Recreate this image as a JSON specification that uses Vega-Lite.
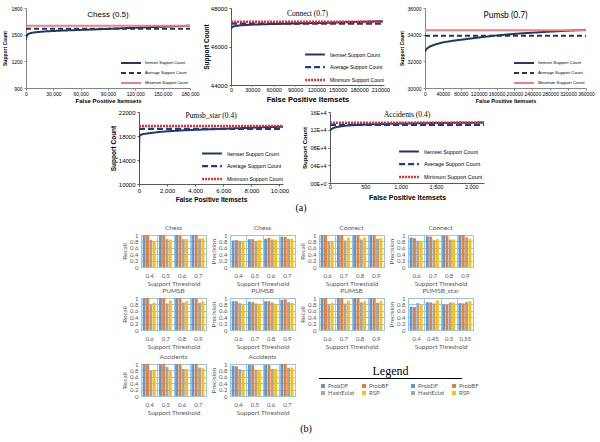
{
"$schema":"https://vega.github.io/schema/vega-lite/v6.json",
"padding":{"left":2,"top":5,"right":0,"bottom":0},
"spacing":0,
"data":{"name":"bars"},
"resolve":{"scale":{"color":"independent","strokeDash":"independent","strokeWidth":"independent"},"legend":{"color":"independent","strokeDash":"independent","strokeWidth":"independent"}},
"config":{
 "view":{"stroke":null},
 "font":"Lato",
 "title":{"font":"Lato","fontSize":6.5,"fontWeight":"normal","color":"#595959","baseline":"alphabetic","offset":1,"frame":"group","anchor":"middle"},
 "axisX":{"grid":true,"gridColor":"#9DC3E6","tickBand":"extent","domain":false,"ticks":false,"labelAngle":0,"labelFont":"Lato","labelFontSize":6,"labelColor":"#595959","labelPadding":5,"titleFont":"Lato","titleFontSize":6.5,"titleFontWeight":"normal","titleColor":"#595959","titlePadding":2},
 "axisY":{"grid":true,"gridColor":"#9DC3E6","domain":false,"ticks":false,"labelFont":"Lato","labelFontSize":6,"labelColor":"#595959","labelPadding":3,"titleFont":"Lato","titleFontSize":6.5,"titleFontWeight":"normal","titleColor":"#595959","titlePadding":2},
 "legend":{"padding":0,"titlePadding":0}
},
"datasets":{
 "methods":[{"m":"ProbDF"},{"m":"ProbBF"},{"m":"HashEclat"},{"m":"RSP"}],
 "bars":[
  {"p":"ChessR","t":"0.4","ProbDF":1,"ProbBF":1,"HashEclat":0.85,"RSP":0.82},
  {"p":"ChessR","t":"0.5","ProbDF":1,"ProbBF":1,"HashEclat":0.87,"RSP":0.85},
  {"p":"ChessR","t":"0.6","ProbDF":1,"ProbBF":1,"HashEclat":0.87,"RSP":0.87},
  {"p":"ChessR","t":"0.7","ProbDF":1,"ProbBF":1,"HashEclat":0.88,"RSP":0.9},
  {"p":"ChessP","t":"0.4","ProbDF":0.83,"ProbBF":0.84,"HashEclat":0.82,"RSP":0.81},
  {"p":"ChessP","t":"0.5","ProbDF":0.87,"ProbBF":0.87,"HashEclat":0.82,"RSP":0.84},
  {"p":"ChessP","t":"0.6","ProbDF":0.88,"ProbBF":0.91,"HashEclat":0.86,"RSP":0.86},
  {"p":"ChessP","t":"0.7","ProbDF":0.95,"ProbBF":0.94,"HashEclat":0.88,"RSP":0.88},
  {"p":"ConnR","t":"0.6","ProbDF":1,"ProbBF":1,"HashEclat":0.79,"RSP":0.82},
  {"p":"ConnR","t":"0.7","ProbDF":1,"ProbBF":1,"HashEclat":0.83,"RSP":0.92},
  {"p":"ConnR","t":"0.8","ProbDF":1,"ProbBF":1,"HashEclat":0.86,"RSP":0.92},
  {"p":"ConnR","t":"0.9","ProbDF":1,"ProbBF":1,"HashEclat":0.88,"RSP":0.9},
  {"p":"ConnP","t":"0.6","ProbDF":0.92,"ProbBF":0.9,"HashEclat":0.82,"RSP":0.81},
  {"p":"ConnP","t":"0.7","ProbDF":0.96,"ProbBF":0.95,"HashEclat":0.84,"RSP":0.87},
  {"p":"ConnP","t":"0.8","ProbDF":0.98,"ProbBF":0.98,"HashEclat":0.86,"RSP":0.86},
  {"p":"ConnP","t":"0.9","ProbDF":1,"ProbBF":1,"HashEclat":0.93,"RSP":0.88},
  {"p":"PumR","t":"0.6","ProbDF":1,"ProbBF":1,"HashEclat":0.8,"RSP":0.85},
  {"p":"PumR","t":"0.7","ProbDF":1,"ProbBF":1,"HashEclat":0.83,"RSP":0.92},
  {"p":"PumR","t":"0.8","ProbDF":1,"ProbBF":1,"HashEclat":0.86,"RSP":0.9},
  {"p":"PumR","t":"0.9","ProbDF":1,"ProbBF":1,"HashEclat":0.85,"RSP":0.9},
  {"p":"PumP","t":"0.6","ProbDF":0.9,"ProbBF":0.9,"HashEclat":0.84,"RSP":0.79},
  {"p":"PumP","t":"0.7","ProbDF":0.89,"ProbBF":0.87,"HashEclat":0.83,"RSP":0.82},
  {"p":"PumP","t":"0.8","ProbDF":0.9,"ProbBF":0.9,"HashEclat":0.86,"RSP":0.81},
  {"p":"PumP","t":"0.9","ProbDF":0.94,"ProbBF":0.96,"HashEclat":0.87,"RSP":0.85},
  {"p":"Pum2R","t":"0.6","ProbDF":1,"ProbBF":1,"HashEclat":0.8,"RSP":0.85},
  {"p":"Pum2R","t":"0.7","ProbDF":1,"ProbBF":1,"HashEclat":0.83,"RSP":0.92},
  {"p":"Pum2R","t":"0.8","ProbDF":1,"ProbBF":1,"HashEclat":0.86,"RSP":0.9},
  {"p":"Pum2R","t":"0.9","ProbDF":1,"ProbBF":1,"HashEclat":0.85,"RSP":0.9},
  {"p":"PsP","t":"0.4","ProbDF":0.73,"ProbBF":0.72,"HashEclat":0.84,"RSP":0.78},
  {"p":"PsP","t":"0.45","ProbDF":0.87,"ProbBF":0.86,"HashEclat":0.83,"RSP":0.92},
  {"p":"PsP","t":"0.5","ProbDF":0.8,"ProbBF":0.8,"HashEclat":0.86,"RSP":0.86},
  {"p":"PsP","t":"0.55","ProbDF":0.84,"ProbBF":0.83,"HashEclat":0.88,"RSP":0.9},
  {"p":"AccR","t":"0.4","ProbDF":1,"ProbBF":1,"HashEclat":0.79,"RSP":0.82},
  {"p":"AccR","t":"0.5","ProbDF":1,"ProbBF":1,"HashEclat":0.91,"RSP":0.82},
  {"p":"AccR","t":"0.6","ProbDF":1,"ProbBF":1,"HashEclat":0.85,"RSP":0.85},
  {"p":"AccR","t":"0.7","ProbDF":1,"ProbBF":1,"HashEclat":0.89,"RSP":0.87},
  {"p":"AccP","t":"0.4","ProbDF":0.94,"ProbBF":0.93,"HashEclat":0.84,"RSP":0.78},
  {"p":"AccP","t":"0.5","ProbDF":0.98,"ProbBF":0.97,"HashEclat":0.82,"RSP":0.82},
  {"p":"AccP","t":"0.6","ProbDF":0.97,"ProbBF":0.97,"HashEclat":0.85,"RSP":0.85},
  {"p":"AccP","t":"0.7","ProbDF":1,"ProbBF":1,"HashEclat":0.88,"RSP":0.89}
 ],
 "chess":[
  {"s":"Itemset Support Count","x":0,"y":1440},{"s":"Itemset Support Count","x":300,"y":1470},{"s":"Itemset Support Count","x":1000,"y":1492},{"s":"Itemset Support Count","x":2500,"y":1508},{"s":"Itemset Support Count","x":5000,"y":1518},{"s":"Itemset Support Count","x":10000,"y":1527},{"s":"Itemset Support Count","x":20000,"y":1536},{"s":"Itemset Support Count","x":35000,"y":1544},{"s":"Itemset Support Count","x":50000,"y":1550},{"s":"Itemset Support Count","x":70000,"y":1557},{"s":"Itemset Support Count","x":90000,"y":1565},{"s":"Itemset Support Count","x":110000,"y":1574},{"s":"Itemset Support Count","x":130000,"y":1582},{"s":"Itemset Support Count","x":150000,"y":1590},{"s":"Itemset Support Count","x":165000,"y":1595},{"s":"Itemset Support Count","x":180000,"y":1601},
  {"s":"Average Support Count","x":0,"y":1567},{"s":"Average Support Count","x":180000,"y":1567},
  {"s":"Minimum Support Count","x":0,"y":1600},{"s":"Minimum Support Count","x":180000,"y":1600}
 ],
 "connect":[
  {"s":"Itemset Support Count","x":0,"y":46900},{"s":"Itemset Support Count","x":1000,"y":46990},{"s":"Itemset Support Count","x":3000,"y":47040},{"s":"Itemset Support Count","x":8000,"y":47080},{"s":"Itemset Support Count","x":15000,"y":47105},{"s":"Itemset Support Count","x":30000,"y":47135},{"s":"Itemset Support Count","x":50000,"y":47160},{"s":"Itemset Support Count","x":75000,"y":47185},{"s":"Itemset Support Count","x":100000,"y":47205},{"s":"Itemset Support Count","x":130000,"y":47230},{"s":"Itemset Support Count","x":160000,"y":47260},{"s":"Itemset Support Count","x":190000,"y":47290},{"s":"Itemset Support Count","x":213000,"y":47320},
  {"s":"Average Support Count","x":0,"y":47183},{"s":"Average Support Count","x":213000,"y":47183},
  {"s":"Minimum Support Count","x":0,"y":47290},{"s":"Minimum Support Count","x":213000,"y":47290}
 ],
 "pumsb":[
  {"s":"Itemset Support Count","x":0,"y":32700},{"s":"Itemset Support Count","x":1500,"y":32850},{"s":"Itemset Support Count","x":5000,"y":32980},{"s":"Itemset Support Count","x":12000,"y":33130},{"s":"Itemset Support Count","x":25000,"y":33290},{"s":"Itemset Support Count","x":40000,"y":33420},{"s":"Itemset Support Count","x":60000,"y":33530},{"s":"Itemset Support Count","x":80000,"y":33620},{"s":"Itemset Support Count","x":120000,"y":33790},{"s":"Itemset Support Count","x":160000,"y":33940},{"s":"Itemset Support Count","x":200000,"y":34060},{"s":"Itemset Support Count","x":240000,"y":34150},{"s":"Itemset Support Count","x":280000,"y":34230},{"s":"Itemset Support Count","x":320000,"y":34300},{"s":"Itemset Support Count","x":360000,"y":34360},
  {"s":"Average Support Count","x":0,"y":33920},{"s":"Average Support Count","x":360000,"y":33920},
  {"s":"Minimum Support Count","x":0,"y":34330},{"s":"Minimum Support Count","x":360000,"y":34330}
 ],
 "pumsbstar":[
  {"s":"Itemset Support Count","x":0,"y":13500},{"s":"Itemset Support Count","x":10,"y":16500},{"s":"Itemset Support Count","x":25,"y":18000},{"s":"Itemset Support Count","x":100,"y":18200},{"s":"Itemset Support Count","x":300,"y":18320},{"s":"Itemset Support Count","x":600,"y":18420},{"s":"Itemset Support Count","x":1000,"y":18550},{"s":"Itemset Support Count","x":1500,"y":18680},{"s":"Itemset Support Count","x":2000,"y":18780},{"s":"Itemset Support Count","x":3000,"y":18920},{"s":"Itemset Support Count","x":4000,"y":19030},{"s":"Itemset Support Count","x":5000,"y":19110},{"s":"Itemset Support Count","x":6000,"y":19200},{"s":"Itemset Support Count","x":7000,"y":19290},{"s":"Itemset Support Count","x":8000,"y":19380},{"s":"Itemset Support Count","x":9000,"y":19460},{"s":"Itemset Support Count","x":10250,"y":19550},
  {"s":"Average Support Count","x":0,"y":19180},{"s":"Average Support Count","x":10250,"y":19180},
  {"s":"Minimum Support Count","x":0,"y":19660},{"s":"Minimum Support Count","x":10250,"y":19660}
 ],
 "accidents":[
  {"s":"Itemset Support Count","x":0,"y":118500},{"s":"Itemset Support Count","x":15,"y":121000},{"s":"Itemset Support Count","x":40,"y":123500},{"s":"Itemset Support Count","x":80,"y":125500},{"s":"Itemset Support Count","x":150,"y":127500},{"s":"Itemset Support Count","x":250,"y":129500},{"s":"Itemset Support Count","x":400,"y":131000},{"s":"Itemset Support Count","x":600,"y":132300},{"s":"Itemset Support Count","x":800,"y":133200},{"s":"Itemset Support Count","x":1000,"y":133900},{"s":"Itemset Support Count","x":1300,"y":134700},{"s":"Itemset Support Count","x":1600,"y":135300},{"s":"Itemset Support Count","x":1900,"y":135800},{"s":"Itemset Support Count","x":2180,"y":136200},
  {"s":"Average Support Count","x":0,"y":131000},{"s":"Average Support Count","x":2180,"y":131000},
  {"s":"Minimum Support Count","x":0,"y":135600},{"s":"Minimum Support Count","x":2180,"y":135600}
 ]
},
"vconcat":[
 {"hconcat":[
  {"width":164,"height":80,
   "title":{"text":"Chess (0.5)","font":"Liberation Sans","fontSize":8,"color":"#000","offset":-13},
   "data":{"name":"chess"},"mark":{"type":"line","clip":true},
   "encoding":{
    "x":{"field":"x","type":"quantitative","scale":{"domain":[0,180000],"nice":false},"axis":{"title":"False Positive Itemsets","values":[0,30000,60000,90000,120000,150000,180000],"format":",d","grid":false,"domain":true,"domainColor":"#868686","ticks":true,"tickColor":"#868686","tickSize":2,"labelFont":"Liberation Sans","labelFontSize":5,"labelColor":"#000","labelPadding":1,"labelFlush":false,"titleFont":"Liberation Sans","titleFontSize":6,"titleFontWeight":"bold","titleColor":"#000","titlePadding":1}},
    "y":{"field":"y","type":"quantitative","scale":{"domain":[900,1800],"nice":false,"zero":false},"axis":{"title":"Support Count","values":[900,1200,1500,1800],"format":"d","grid":false,"domain":true,"domainColor":"#868686","ticks":true,"tickColor":"#868686","tickSize":2,"labelFont":"Liberation Sans","labelFontSize":5,"labelColor":"#000","labelPadding":2,"titleFont":"Liberation Sans","titleFontSize":5,"titleFontWeight":"bold","titleColor":"#000","titlePadding":3}},
    "color":{"field":"s","type":"nominal","scale":{"domain":["Itemset Support Count","Average Support Count","Minimum Support Count"],"range":["#1F3864","#1F3864","#F08080"]},"legend":{"title":null,"orient":"bottom-right","offset":1,"symbolType":"M-2.5,0H2.5","symbolSize":64,"symbolStrokeWidth":2,"labelOffset":9,"labelFont":"Liberation Sans","labelFontSize":4,"labelColor":"#000","rowPadding":1}},
    "strokeDash":{"field":"s","type":"nominal","scale":{"domain":["Itemset Support Count","Average Support Count","Minimum Support Count"],"range":[[1,0],[5,3],[1,0]]},"legend":{"title":null,"orient":"bottom-right","offset":1,"symbolType":"M-2.5,0H2.5","symbolSize":64,"symbolStrokeWidth":2,"labelOffset":9,"labelFont":"Liberation Sans","labelFontSize":4,"labelColor":"#000","rowPadding":1}},
    "strokeWidth":{"field":"s","type":"ordinal","scale":{"domain":["Itemset Support Count","Average Support Count","Minimum Support Count"],"range":[2,2,1]},"legend":null}
   }},
  {"width":153,"height":77,
   "title":{"text":"Connect (0.7)","font":"Liberation Serif","fontSize":7.5,"color":"#000","offset":-12},
   "data":{"name":"connect"},"mark":{"type":"line","clip":true},
   "encoding":{
    "x":{"field":"x","type":"quantitative","scale":{"domain":[0,215000],"nice":false},"axis":{"title":"False Positive Itemsets","values":[0,30000,60000,90000,120000,150000,180000,210000],"format":"d","grid":false,"domain":true,"domainColor":"#595959","ticks":true,"tickColor":"#595959","tickSize":1,"labelFont":"Liberation Sans","labelFontSize":5.5,"labelColor":"#000","labelPadding":1,"labelFlush":false,"labelOverlap":false,"titleFont":"Liberation Sans","titleFontSize":7.5,"titleFontWeight":"bold","titleColor":"#000","titlePadding":3}},
    "y":{"field":"y","type":"quantitative","scale":{"domain":[44000,48000],"nice":false,"zero":false},"axis":{"title":"Support Count","values":[44000,46000,48000],"format":"d","grid":false,"domain":true,"domainColor":"#595959","ticks":true,"tickColor":"#595959","tickSize":2,"labelFont":"Liberation Sans","labelFontSize":6,"labelColor":"#000","labelPadding":2,"titleFont":"Liberation Sans","titleFontSize":6.5,"titleFontWeight":"bold","titleColor":"#000","titlePadding":1}},
    "color":{"field":"s","type":"nominal","scale":{"domain":["Itemset Support Count","Average Support Count","Minimum Support Count"],"range":["#1F3864","#1F3A93","#E03030"]},"legend":{"title":null,"orient":"bottom-right","offset":0,"symbolType":"M-2.2,0H2.2","symbolSize":81,"symbolStrokeWidth":2,"labelOffset":9,"labelFont":"Liberation Sans","labelFontSize":5,"labelColor":"#000","rowPadding":2}},
    "strokeDash":{"field":"s","type":"nominal","scale":{"domain":["Itemset Support Count","Average Support Count","Minimum Support Count"],"range":[[1,0],[6,3],[2,1]]},"legend":{"title":null,"orient":"bottom-right","offset":0,"symbolType":"M-2.2,0H2.2","symbolSize":81,"symbolStrokeWidth":2,"labelOffset":9,"labelFont":"Liberation Sans","labelFontSize":5,"labelColor":"#000","rowPadding":2}},
    "strokeWidth":{"field":"s","type":"ordinal","scale":{"domain":["Itemset Support Count","Average Support Count","Minimum Support Count"],"range":[2,2.5,1.3]},"legend":null}
   }},
  {"width":161,"height":80,
   "title":{"text":"Pumsb (0.7)","font":"Lato","fontSize":8.5,"color":"#000","offset":-13},
   "data":{"name":"pumsb"},"mark":{"type":"line","clip":true},
   "encoding":{
    "x":{"field":"x","type":"quantitative","scale":{"domain":[0,360000],"nice":false},"axis":{"title":"False Positive Itemsets","values":[0,40000,80000,120000,160000,200000,240000,280000,320000,360000],"format":"d","grid":false,"domain":true,"domainColor":"#868686","ticks":true,"tickColor":"#868686","tickSize":2,"labelFont":"Liberation Sans","labelFontSize":5,"labelColor":"#000","labelPadding":1,"labelFlush":false,"labelOverlap":false,"titleFont":"Liberation Sans","titleFontSize":5.5,"titleFontWeight":"bold","titleColor":"#000","titlePadding":2}},
    "y":{"field":"y","type":"quantitative","scale":{"domain":[30000,36000],"nice":false,"zero":false},"axis":{"title":"Support Count","values":[30000,32000,34000,36000],"format":"d","grid":false,"domain":true,"domainColor":"#868686","ticks":true,"tickColor":"#868686","tickSize":2,"labelFont":"Liberation Sans","labelFontSize":5,"labelColor":"#000","labelPadding":2,"titleFont":"Liberation Sans","titleFontSize":5,"titleFontWeight":"bold","titleColor":"#000","titlePadding":3}},
    "color":{"field":"s","type":"nominal","scale":{"domain":["Itemset Support Count","Average Support Count","Minimum Support Count"],"range":["#1F3864","#1F3864","#F08080"]},"legend":{"title":null,"orient":"bottom-right","offset":1,"symbolType":"M-2.5,0H2.5","symbolSize":64,"symbolStrokeWidth":2,"labelOffset":9,"labelFont":"Liberation Sans","labelFontSize":4.3,"labelColor":"#000","rowPadding":1}},
    "strokeDash":{"field":"s","type":"nominal","scale":{"domain":["Itemset Support Count","Average Support Count","Minimum Support Count"],"range":[[1,0],[5,3],[1,0]]},"legend":{"title":null,"orient":"bottom-right","offset":1,"symbolType":"M-2.5,0H2.5","symbolSize":64,"symbolStrokeWidth":2,"labelOffset":9,"labelFont":"Liberation Sans","labelFontSize":4.3,"labelColor":"#000","rowPadding":1}},
    "strokeWidth":{"field":"s","type":"ordinal","scale":{"domain":["Itemset Support Count","Average Support Count","Minimum Support Count"],"range":[2,2,1]},"legend":null}
   }}
 ],"spacing":41,"bounds":"flush","resolve":{"scale":{"color":"independent","strokeDash":"independent","strokeWidth":"independent"},"legend":{"color":"independent","strokeDash":"independent","strokeWidth":"independent"}}},
 {"width":1,"height":5,"data":{"values":[]},"mark":"point"},
 {"hconcat":[
  {"width":66,"height":1,"data":{"values":[]},"mark":"point"},
  {"width":144,"height":72,
   "title":{"text":"Pumsb_star (0.4)","font":"Liberation Serif","fontSize":7.5,"color":"#000","offset":-10},
   "data":{"name":"pumsbstar"},"mark":{"type":"line","clip":true},
   "encoding":{
    "x":{"field":"x","type":"quantitative","scale":{"domain":[0,10250],"nice":false},"axis":{"title":"False Positive Itemsets","values":[0,2000,4000,6000,8000,10000],"format":",d","grid":false,"domain":true,"domainColor":"#595959","ticks":true,"tickColor":"#595959","tickSize":2,"labelFont":"Liberation Sans","labelFontSize":6,"labelColor":"#000","labelPadding":1,"labelFlush":false,"titleFont":"Liberation Sans","titleFontSize":6.5,"titleFontWeight":"bold","titleColor":"#000","titlePadding":3}},
    "y":{"field":"y","type":"quantitative","scale":{"domain":[10000,22000],"nice":false,"zero":false},"axis":{"title":"Support Count","values":[10000,14000,18000,22000],"format":"d","grid":false,"domain":true,"domainColor":"#595959","ticks":true,"tickColor":"#595959","tickSize":2,"labelFont":"Liberation Sans","labelFontSize":6,"labelColor":"#000","labelPadding":2,"titleFont":"Liberation Sans","titleFontSize":6.5,"titleFontWeight":"bold","titleColor":"#000","titlePadding":2}},
    "color":{"field":"s","type":"nominal","scale":{"domain":["Itemset Support Count","Average Support Count","Minimum Support Count"],"range":["#1F3864","#1F3A93","#E03030"]},"legend":{"title":null,"orient":"bottom-right","offset":0,"symbolType":"M-2.2,0H2.2","symbolSize":81,"symbolStrokeWidth":2,"labelOffset":9,"labelFont":"Liberation Sans","labelFontSize":5.2,"labelColor":"#000","rowPadding":2}},
    "strokeDash":{"field":"s","type":"nominal","scale":{"domain":["Itemset Support Count","Average Support Count","Minimum Support Count"],"range":[[1,0],[6,3],[2,1]]},"legend":{"title":null,"orient":"bottom-right","offset":0,"symbolType":"M-2.2,0H2.2","symbolSize":81,"symbolStrokeWidth":2,"labelOffset":9,"labelFont":"Liberation Sans","labelFontSize":5.2,"labelColor":"#000","rowPadding":2}},
    "strokeWidth":{"field":"s","type":"ordinal","scale":{"domain":["Itemset Support Count","Average Support Count","Minimum Support Count"],"range":[2,2.5,1.3]},"legend":null}
   }},
  {"width":154,"height":71,
   "title":{"text":"Accidents (0.4)","font":"Liberation Serif","fontSize":7.5,"color":"#000","offset":-8},
   "data":{"name":"accidents"},"mark":{"type":"line","clip":true},
   "encoding":{
    "x":{"field":"x","type":"quantitative","scale":{"domain":[0,2180],"nice":false},"axis":{"title":"False Positive Itemsets","values":[0,500,1000,1500,2000],"format":",d","grid":false,"domain":true,"domainColor":"#595959","ticks":true,"tickColor":"#595959","tickSize":1,"labelFont":"Liberation Sans","labelFontSize":5.5,"labelColor":"#000","labelPadding":0,"labelFlush":false,"titleFont":"Liberation Sans","titleFontSize":7,"titleFontWeight":"bold","titleColor":"#000","titlePadding":4}},
    "y":{"field":"y","type":"quantitative","scale":{"domain":[0,160000],"nice":false},"axis":{"title":"Support Count","values":[0,40000,80000,120000,160000],"labelExpr":"datum.value == 0 ? '00E+0' : (datum.value < 100000 ? '0' : '') + (datum.value/10000) + 'E+4'","grid":false,"domain":true,"domainColor":"#595959","ticks":true,"tickColor":"#595959","tickSize":2,"labelFont":"Liberation Sans","labelFontSize":5.5,"labelColor":"#000","labelPadding":2,"titleFont":"Liberation Sans","titleFontSize":6,"titleFontWeight":"bold","titleColor":"#000","titlePadding":2}},
    "color":{"field":"s","type":"nominal","scale":{"domain":["Itemset Support Count","Average Support Count","Minimum Support Count"],"range":["#1F3864","#1F3A93","#E03030"]},"legend":{"title":null,"orient":"bottom-right","offset":1.5,"symbolType":"M-2.2,0H2.2","symbolSize":81,"symbolStrokeWidth":2,"labelOffset":9,"labelFont":"Liberation Sans","labelFontSize":5.4,"labelColor":"#000","rowPadding":2}},
    "strokeDash":{"field":"s","type":"nominal","scale":{"domain":["Itemset Support Count","Average Support Count","Minimum Support Count"],"range":[[1,0],[6,3],[2,1]]},"legend":{"title":null,"orient":"bottom-right","offset":1.5,"symbolType":"M-2.2,0H2.2","symbolSize":81,"symbolStrokeWidth":2,"labelOffset":9,"labelFont":"Liberation Sans","labelFontSize":5.4,"labelColor":"#000","rowPadding":2}},
    "strokeWidth":{"field":"s","type":"ordinal","scale":{"domain":["Itemset Support Count","Average Support Count","Minimum Support Count"],"range":[2,2.5,1.3]},"legend":null}
   }}
 ],"spacing":47,"bounds":"flush","resolve":{"scale":{"color":"independent","strokeDash":"independent","strokeWidth":"independent"},"legend":{"color":"independent","strokeDash":"independent","strokeWidth":"independent"}}},
 {"width":550,"height":11,"data":{"values":[]},"mark":"point","title":{"text":"(a)","font":"Liberation Serif","fontSize":10,"color":"#000","offset":0}},
 {"hconcat":[
  {"width":91,"height":1,"data":{"values":[]},"mark":"point"},
  {"width":65,"height":32,"view":{"stroke":"#9DC3E6"},"title":"Chess","transform":[{"filter":"datum.p=='ChessR'"},{"fold":["ProbDF","ProbBF","HashEclat","RSP"],"as":["m","v"]}],"mark":"bar","encoding":{"x":{"field":"t","type":"ordinal","title":"Support Threshold","scale":{"paddingInner":0,"paddingOuter":0}},"xOffset":{"field":"m","type":"nominal","scale":{"domain":["ProbDF","ProbBF","HashEclat","RSP"],"paddingInner":0.12,"paddingOuter":0.5}},"y":{"field":"v","type":"quantitative","title":"Recall","scale":{"domain":[0,1]},"axis":{"format":"~g","tickCount":5}},"color":{"field":"m","type":"nominal","scale":{"domain":["ProbDF","ProbBF","HashEclat","RSP"],"range":["#5B9BD5","#ED7D31","#A5A5A5","#FFC000"]},"legend":null}}},
  {"width":65,"height":32,"view":{"stroke":"#9DC3E6"},"title":"Chess","transform":[{"filter":"datum.p=='ChessP'"},{"fold":["ProbDF","ProbBF","HashEclat","RSP"],"as":["m","v"]}],"mark":"bar","encoding":{"x":{"field":"t","type":"ordinal","title":"Support Threshold","scale":{"paddingInner":0,"paddingOuter":0}},"xOffset":{"field":"m","type":"nominal","scale":{"domain":["ProbDF","ProbBF","HashEclat","RSP"],"paddingInner":0.12,"paddingOuter":0.5}},"y":{"field":"v","type":"quantitative","title":"Precision","scale":{"domain":[0,1]},"axis":{"format":"~g","tickCount":5}},"color":{"field":"m","type":"nominal","scale":{"domain":["ProbDF","ProbBF","HashEclat","RSP"],"range":["#5B9BD5","#ED7D31","#A5A5A5","#FFC000"]},"legend":null}}},
  {"width":65,"height":32,"view":{"stroke":"#9DC3E6"},"title":"Connect","transform":[{"filter":"datum.p=='ConnR'"},{"fold":["ProbDF","ProbBF","HashEclat","RSP"],"as":["m","v"]}],"mark":"bar","encoding":{"x":{"field":"t","type":"ordinal","title":"Support Threshold","scale":{"paddingInner":0,"paddingOuter":0}},"xOffset":{"field":"m","type":"nominal","scale":{"domain":["ProbDF","ProbBF","HashEclat","RSP"],"paddingInner":0.12,"paddingOuter":0.5}},"y":{"field":"v","type":"quantitative","title":"Recall","scale":{"domain":[0,1]},"axis":{"format":"~g","tickCount":5}},"color":{"field":"m","type":"nominal","scale":{"domain":["ProbDF","ProbBF","HashEclat","RSP"],"range":["#5B9BD5","#ED7D31","#A5A5A5","#FFC000"]},"legend":null}}},
  {"width":65,"height":32,"view":{"stroke":"#9DC3E6"},"title":"Connect","transform":[{"filter":"datum.p=='ConnP'"},{"fold":["ProbDF","ProbBF","HashEclat","RSP"],"as":["m","v"]}],"mark":"bar","encoding":{"x":{"field":"t","type":"ordinal","title":"Support Threshold","scale":{"paddingInner":0,"paddingOuter":0}},"xOffset":{"field":"m","type":"nominal","scale":{"domain":["ProbDF","ProbBF","HashEclat","RSP"],"paddingInner":0.12,"paddingOuter":0.5}},"y":{"field":"v","type":"quantitative","title":"Precision","scale":{"domain":[0,1]},"axis":{"format":"~g","tickCount":5}},"color":{"field":"m","type":"nominal","scale":{"domain":["ProbDF","ProbBF","HashEclat","RSP"],"range":["#5B9BD5","#ED7D31","#A5A5A5","#FFC000"]},"legend":null}}}
 ],"spacing":24,"bounds":"flush","resolve":{"scale":{"color":"independent"},"legend":{"color":"independent"}}},
 {"hconcat":[
  {"width":91,"height":1,"data":{"values":[]},"mark":"point"},
  {"width":65,"height":32,"view":{"stroke":"#9DC3E6"},"title":"PUMSB","transform":[{"filter":"datum.p=='PumR'"},{"fold":["ProbDF","ProbBF","HashEclat","RSP"],"as":["m","v"]}],"mark":"bar","encoding":{"x":{"field":"t","type":"ordinal","title":"Support Threshold","scale":{"paddingInner":0,"paddingOuter":0}},"xOffset":{"field":"m","type":"nominal","scale":{"domain":["ProbDF","ProbBF","HashEclat","RSP"],"paddingInner":0.12,"paddingOuter":0.5}},"y":{"field":"v","type":"quantitative","title":"Recall","scale":{"domain":[0,1]},"axis":{"format":"~g","tickCount":5}},"color":{"field":"m","type":"nominal","scale":{"domain":["ProbDF","ProbBF","HashEclat","RSP"],"range":["#5B9BD5","#ED7D31","#A5A5A5","#FFC000"]},"legend":null}}},
  {"width":65,"height":32,"view":{"stroke":"#9DC3E6"},"title":"PUMSB","transform":[{"filter":"datum.p=='PumP'"},{"fold":["ProbDF","ProbBF","HashEclat","RSP"],"as":["m","v"]}],"mark":"bar","encoding":{"x":{"field":"t","type":"ordinal","title":"Support Threshold","scale":{"paddingInner":0,"paddingOuter":0}},"xOffset":{"field":"m","type":"nominal","scale":{"domain":["ProbDF","ProbBF","HashEclat","RSP"],"paddingInner":0.12,"paddingOuter":0.5}},"y":{"field":"v","type":"quantitative","title":"Precision","scale":{"domain":[0,1]},"axis":{"format":"~g","tickCount":5}},"color":{"field":"m","type":"nominal","scale":{"domain":["ProbDF","ProbBF","HashEclat","RSP"],"range":["#5B9BD5","#ED7D31","#A5A5A5","#FFC000"]},"legend":null}}},
  {"width":65,"height":32,"view":{"stroke":"#9DC3E6"},"title":"PUMSB","transform":[{"filter":"datum.p=='Pum2R'"},{"fold":["ProbDF","ProbBF","HashEclat","RSP"],"as":["m","v"]}],"mark":"bar","encoding":{"x":{"field":"t","type":"ordinal","title":"Support Threshold","scale":{"paddingInner":0,"paddingOuter":0}},"xOffset":{"field":"m","type":"nominal","scale":{"domain":["ProbDF","ProbBF","HashEclat","RSP"],"paddingInner":0.12,"paddingOuter":0.5}},"y":{"field":"v","type":"quantitative","title":"Recall","scale":{"domain":[0,1]},"axis":{"format":"~g","tickCount":5}},"color":{"field":"m","type":"nominal","scale":{"domain":["ProbDF","ProbBF","HashEclat","RSP"],"range":["#5B9BD5","#ED7D31","#A5A5A5","#FFC000"]},"legend":null}}},
  {"width":65,"height":32,"view":{"stroke":"#9DC3E6"},"title":"PUMSB_star","transform":[{"filter":"datum.p=='PsP'"},{"fold":["ProbDF","ProbBF","HashEclat","RSP"],"as":["m","v"]}],"mark":"bar","encoding":{"x":{"field":"t","type":"ordinal","title":"Support Threshold","scale":{"paddingInner":0,"paddingOuter":0}},"xOffset":{"field":"m","type":"nominal","scale":{"domain":["ProbDF","ProbBF","HashEclat","RSP"],"paddingInner":0.12,"paddingOuter":0.5}},"y":{"field":"v","type":"quantitative","title":"Precision","scale":{"domain":[0,1]},"axis":{"format":"~g","tickCount":5}},"color":{"field":"m","type":"nominal","scale":{"domain":["ProbDF","ProbBF","HashEclat","RSP"],"range":["#5B9BD5","#ED7D31","#A5A5A5","#FFC000"]},"legend":null}}}
 ],"spacing":24,"bounds":"flush","resolve":{"scale":{"color":"independent"},"legend":{"color":"independent"}}},
 {"width":1,"height":3,"data":{"values":[]},"mark":"point"},
 {"hconcat":[
  {"width":91,"height":1,"data":{"values":[]},"mark":"point"},
  {"width":65,"height":32,"view":{"stroke":"#9DC3E6"},"title":"Accidents","transform":[{"filter":"datum.p=='AccR'"},{"fold":["ProbDF","ProbBF","HashEclat","RSP"],"as":["m","v"]}],"mark":"bar","encoding":{"x":{"field":"t","type":"ordinal","title":"Support Threshold","scale":{"paddingInner":0,"paddingOuter":0}},"xOffset":{"field":"m","type":"nominal","scale":{"domain":["ProbDF","ProbBF","HashEclat","RSP"],"paddingInner":0.12,"paddingOuter":0.5}},"y":{"field":"v","type":"quantitative","title":"Recall","scale":{"domain":[0,1]},"axis":{"format":"~g","tickCount":5}},"color":{"field":"m","type":"nominal","scale":{"domain":["ProbDF","ProbBF","HashEclat","RSP"],"range":["#5B9BD5","#ED7D31","#A5A5A5","#FFC000"]},"legend":null}}},
  {"width":65,"height":32,"view":{"stroke":"#9DC3E6"},"title":"Accidents","transform":[{"filter":"datum.p=='AccP'"},{"fold":["ProbDF","ProbBF","HashEclat","RSP"],"as":["m","v"]}],"mark":"bar","encoding":{"x":{"field":"t","type":"ordinal","title":"Support Threshold","scale":{"paddingInner":0,"paddingOuter":0}},"xOffset":{"field":"m","type":"nominal","scale":{"domain":["ProbDF","ProbBF","HashEclat","RSP"],"paddingInner":0.12,"paddingOuter":0.5}},"y":{"field":"v","type":"quantitative","title":"Precision","scale":{"domain":[0,1]},"axis":{"format":"~g","tickCount":5}},"color":{"field":"m","type":"nominal","scale":{"domain":["ProbDF","ProbBF","HashEclat","RSP"],"range":["#5B9BD5","#ED7D31","#A5A5A5","#FFC000"]},"legend":null}}},
  {"width":143,"height":33,
   "title":{"text":"Legend","font":"Liberation Serif","fontSize":12,"color":"#000","offset":-14},
   "layer":[
    {"data":{"values":[{"k":1}]},"mark":{"type":"rule","color":"#000","strokeWidth":1},"encoding":{"y":{"datum":0.56,"type":"quantitative","scale":{"domain":[0,1]},"axis":null}}},
    {"data":{"name":"methods"},"mark":"bar","encoding":{"y":{"datum":0,"type":"quantitative","axis":null},"y2":{"datum":0},"color":{"field":"m","type":"nominal","scale":{"domain":["ProbDF","ProbBF","HashEclat","RSP"],"range":["#5B9BD5","#ED7D31","#A5A5A5","#FFC000"]},"legend":{"title":null,"orient":"none","direction":"horizontal","legendX":1,"legendY":19,"columns":2,"columnPadding":6,"rowPadding":1,"symbolSize":16,"symbolType":"square","labelFont":"Lato","labelFontSize":6,"labelColor":"#595959","labelOffset":2}}}},
    {"data":{"name":"methods"},"mark":"bar","encoding":{"y":{"datum":0,"type":"quantitative","axis":null},"y2":{"datum":0},"color":{"field":"m","type":"nominal","scale":{"domain":["ProbDF","ProbBF","HashEclat","RSP"],"range":["#5B9BD5","#ED7D31","#A5A5A5","#FFC000"]},"legend":{"title":null,"orient":"none","direction":"horizontal","legendX":91,"legendY":19,"columns":2,"columnPadding":6,"rowPadding":1,"symbolSize":16,"symbolType":"square","labelFont":"Lato","labelFontSize":6,"labelColor":"#595959","labelOffset":2}}}}
   ],
   "resolve":{"scale":{"color":"independent"},"legend":{"color":"independent"}}}
 ],"spacing":24,"bounds":"flush","resolve":{"scale":{"color":"independent"},"legend":{"color":"independent"}}},
 {"width":1,"height":8,"data":{"values":[]},"mark":"point"},
 {"width":550,"height":1,"data":{"values":[]},"mark":"point","title":{"text":"(b)","font":"Liberation Serif","fontSize":10,"color":"#000","offset":0,"dx":5}}
]
}
